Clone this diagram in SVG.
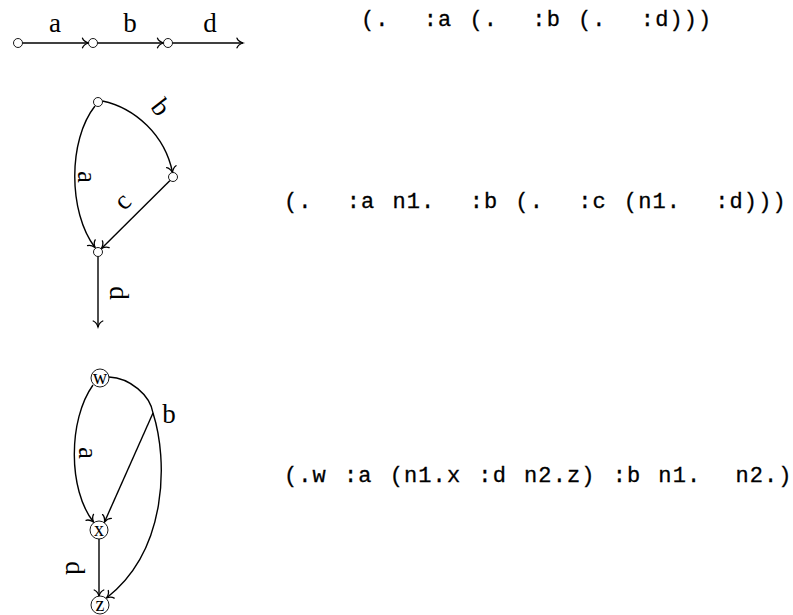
<svg xmlns="http://www.w3.org/2000/svg" width="793" height="615" viewBox="0 0 793 615">
<defs>
<style>
.edge{fill:none;stroke:#000;stroke-width:1.4;marker-end:url(#arr)}
.line{fill:none;stroke:#000;stroke-width:1.4}
.node{fill:#fff;stroke:#000;stroke-width:0.9}
.lbl{font-family:"Liberation Serif",serif;font-size:27px;fill:#000;text-anchor:middle;dominant-baseline:central}
.top{font-family:"Liberation Serif",serif;font-size:27px;fill:#000;text-anchor:middle}
.nl{font-family:"Liberation Serif",serif;font-size:20px;fill:#000;text-anchor:middle;dominant-baseline:central}
.code{font-family:"Liberation Mono",monospace;font-size:22px;letter-spacing:1.1px;word-spacing:2.8px;fill:#000;stroke:#000;stroke-width:0.3}
</style>
<marker id="arr" markerUnits="userSpaceOnUse" markerWidth="14" markerHeight="14" viewBox="-7 -7 14 14" refX="0" refY="0" orient="auto" overflow="visible">
<path d="M-6,-4.8 C-4.8,-1.8 -1.4,-0.45 0,0 C-1.4,0.45 -4.8,1.8 -6,4.8" fill="none" stroke="#000" stroke-width="1.3" stroke-linecap="round"/>
</marker>
</defs>
<g id="connectors">
<path class="edge" d="M22.5,43 H88.5"/>
<path class="edge" d="M97.5,43 H163.5"/>
<path class="edge" d="M172.5,43 H243"/>
<path class="edge" d="M95,106 C68,140 68,212 95,247.5"/>
<path class="edge" d="M102.5,101 C135,108 165,135 172.5,172.5"/>
<path class="edge" d="M170,180.5 L101.5,248.5"/>
<path class="edge" d="M98,256.5 V327"/>
<path class="edge" d="M93,385 C68,420 68,490 93.5,522"/>
<path class="line" d="M109,377 C130,378 150,395 153,413"/>
<path class="edge" d="M153,413 L104.5,522"/>
<path class="edge" d="M153,413 C168,460 168,550 106.5,598"/>
<path class="edge" d="M99,539 V596"/>
<text class="top" x="55" y="32">a</text>
<text class="top" x="130" y="32">b</text>
<text class="top" x="210" y="32">d</text>
<text class="lbl" transform="translate(87,177) rotate(90)">a</text>
<text class="lbl" transform="translate(161,107) rotate(52)">b</text>
<text class="lbl" transform="translate(122,201) rotate(-45)">c</text>
<text class="lbl" transform="translate(119,293) rotate(90)">d</text>
<text class="lbl" transform="translate(88,453) rotate(90)">a</text>
<text class="lbl" x="169" y="414">b</text>
<text class="lbl" transform="translate(75,568) rotate(90)">d</text>
</g>
<g id="n1a"><circle class="node" cx="18" cy="43" r="4.5"/></g>
<g id="n1b"><circle class="node" cx="93" cy="43" r="4.5"/></g>
<g id="n1c"><circle class="node" cx="168" cy="43" r="4.5"/></g>
<g id="n2top"><circle class="node" cx="98" cy="102" r="4.5"/></g>
<g id="n2right"><circle class="node" cx="173" cy="177" r="4.5"/></g>
<g id="n2bottom"><circle class="node" cx="98" cy="252" r="4.5"/></g>
<g id="w"><circle class="node" cx="100" cy="378" r="9"/><text class="nl" x="100" y="377">w</text></g>
<g id="x"><circle class="node" cx="99" cy="530" r="9"/><text class="nl" x="99" y="529">x</text></g>
<g id="z"><circle class="node" cx="100" cy="605" r="9"/><text class="nl" x="100" y="604">z</text></g>
<g id="code">
<text class="code" x="361" y="26" xml:space="preserve">(.  :a (.  :b (.  :d)))</text>
<text class="code" x="284" y="208" xml:space="preserve">(.  :a n1.  :b (.  :c (n1.  :d)))</text>
<text class="code" x="284" y="482" xml:space="preserve">(.w :a (n1.x :d n2.z) :b n1.  n2.)</text>
</g>
</svg>
